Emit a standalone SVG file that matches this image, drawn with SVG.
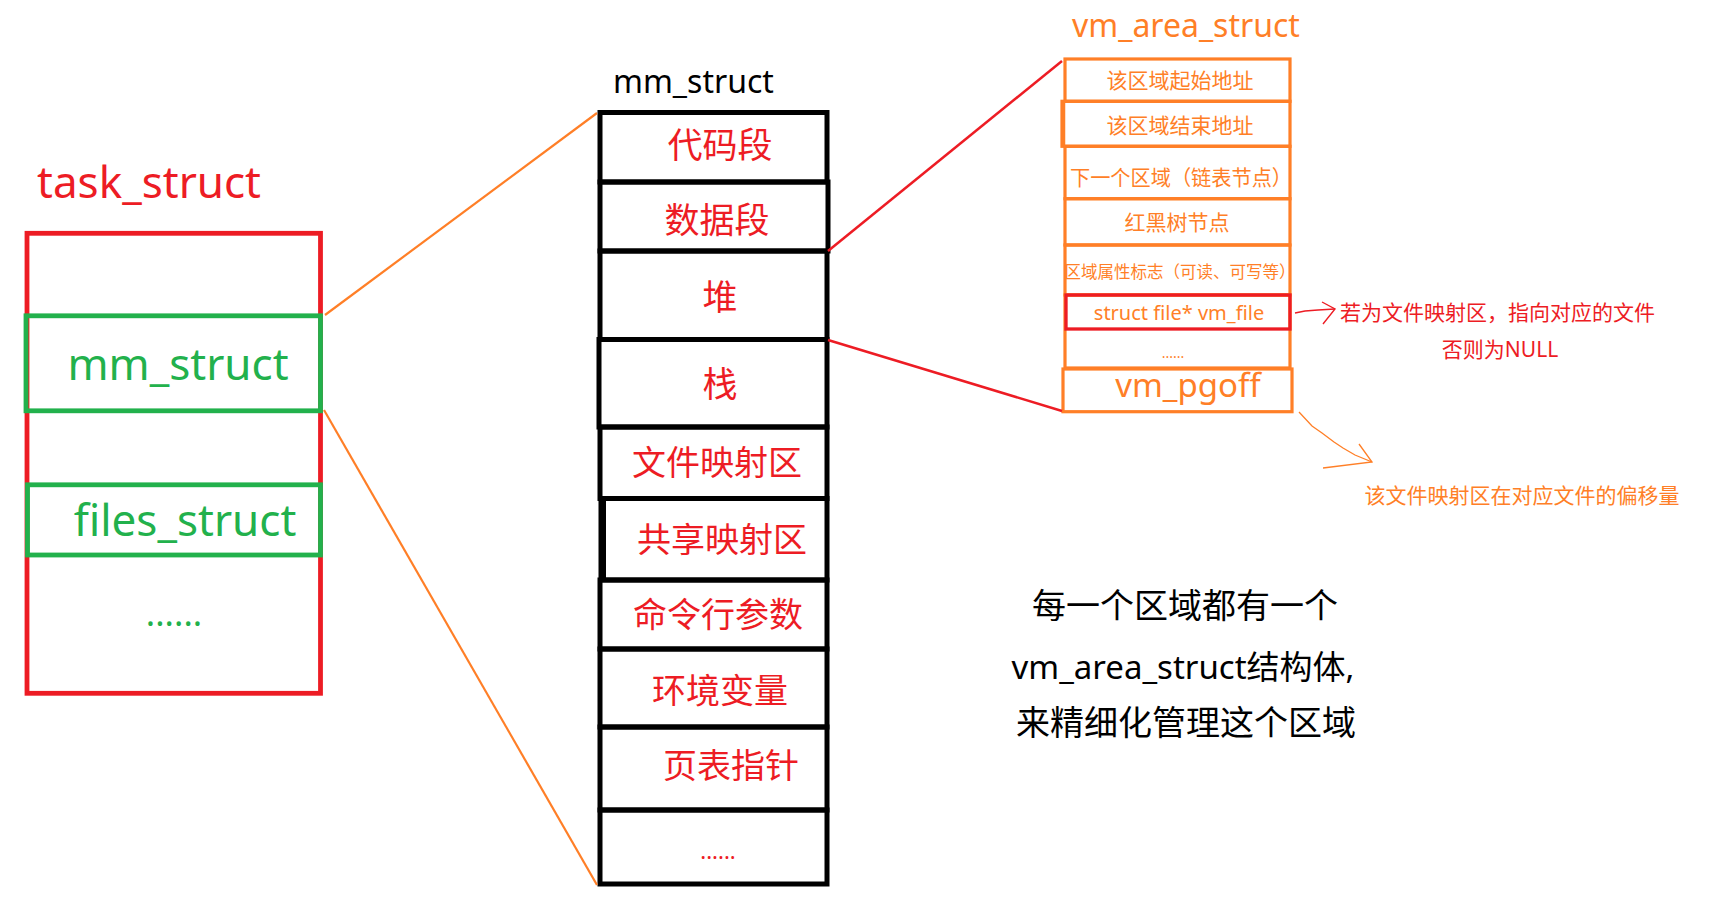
<svg xmlns="http://www.w3.org/2000/svg" width="1717" height="903" viewBox="0 0 1717 903">
<style>
text{font-family:"Noto Sans","Noto Sans CJK SC",sans-serif;}
.red{fill:#ED1C24;}
.grn{fill:#22B14C;}
.org{fill:#FF7F27;}
.blk{fill:#000;}
.m{text-anchor:middle;}
.bk{fill:none;stroke:#000;stroke-width:5;}
.ob{fill:none;stroke:#FF7F27;stroke-width:3.2;}
</style>
<rect width="1717" height="903" fill="#fff"/>
<g id="task_struct">
<text x="37" y="198" class="red" font-size="44">task_struct</text>
<rect x="27" y="233.3" width="293.5" height="460" fill="none" stroke="#ED1C24" stroke-width="4.8"/>
</g>
<g id="task_mm_struct">
<rect x="26" y="315.8" width="294.5" height="95" fill="none" stroke="#22B14C" stroke-width="4.8"/>
<text x="178" y="380" class="grn m" font-size="44">mm_struct</text>
</g>
<g id="task_files_struct">
<rect x="27.5" y="484.8" width="293" height="70.2" fill="none" stroke="#22B14C" stroke-width="4.8"/>
<text x="185" y="536" class="grn m" font-size="44">files_struct</text>
</g>
<g id="task_more">
<text x="174" y="626" class="grn m" font-size="35">......</text>
</g>
<g id="mm_struct">
<text x="613" y="93" class="blk" font-size="32">mm_struct</text>
<rect class="bk" x="600" y="112.5" width="227" height="69.5"/>
<text x="720" y="158" class="red m" font-size="35">代码段</text>
<rect class="bk" x="600" y="182" width="228" height="69"/>
<text x="717" y="233" class="red m" font-size="35">数据段</text>
<rect class="bk" x="600" y="251" width="227" height="88.5"/>
<text x="720" y="310" class="red m" font-size="35">堆</text>
<rect class="bk" x="599" y="339.5" width="228" height="87.5"/>
<text x="720" y="397" class="red m" font-size="35">栈</text>
<rect class="bk" x="600" y="427" width="227" height="71.5"/>
<text x="717" y="475" class="red m" font-size="34">文件映射区</text>
<rect class="bk" x="601" y="498.5" width="226" height="81.5"/>
<line x1="604" y1="500" x2="604" y2="578" stroke="#000" stroke-width="4"/>
<text x="722" y="552" class="red m" font-size="34">共享映射区</text>
<rect class="bk" x="600" y="580" width="227" height="69"/>
<text x="718" y="627" class="red m" font-size="34">命令行参数</text>
<rect class="bk" x="600" y="649" width="227" height="78"/>
<text x="720" y="703" class="red m" font-size="34">环境变量</text>
<rect class="bk" x="600" y="727" width="227" height="83"/>
<text x="731" y="778" class="red m" font-size="34">页表指针</text>
<rect class="bk" x="600" y="810" width="227" height="74"/>
<text x="718" y="859" class="red m" font-size="22">......</text>
</g>
<g id="vm_area_struct">
<text x="1072" y="37" class="org" font-size="32">vm_area_struct</text>
<rect class="ob" x="1065" y="59" width="225" height="42.3"/>
<text x="1180" y="88" class="org m" font-size="21">该区域起始地址</text>
<rect class="ob" x="1062" y="101.3" width="228" height="45"/>
<line x1="1063.5" y1="102" x2="1063.5" y2="146" stroke="#FF7F27" stroke-width="3.5"/>
<text x="1180" y="133" class="org m" font-size="21">该区域结束地址</text>
<rect class="ob" x="1065" y="146.3" width="225" height="52.4"/>
<text x="1070" y="185" class="org" font-size="21" textLength="222" lengthAdjust="spacingAndGlyphs">下一个区域（链表节点）</text>
<rect class="ob" x="1065" y="198.7" width="225" height="46.3"/>
<text x="1177" y="230" class="org m" font-size="21">红黑树节点</text>
<rect class="ob" x="1065" y="245" width="225" height="50"/>
<text x="1180" y="278" class="org m" font-size="16.5">区域属性标志（可读、可写等）</text>
<rect class="ob" x="1065" y="295" width="225" height="73"/>
<text x="1173" y="358" class="org m" font-size="14">......</text>
<rect x="1066" y="295" width="224" height="34" fill="none" stroke="#ED1C24" stroke-width="3.3"/>
<text x="1179" y="320" class="org m" font-size="20">struct file* vm_file</text>
<rect class="ob" x="1063" y="369" width="229" height="42.7"/>
<text x="1188" y="397" class="org m" font-size="33">vm_pgoff</text>
</g>
<g id="notes">
<text x="1340" y="320" class="red" font-size="21">若为文件映射区，指向对应的文件</text>
<text x="1500" y="357" class="red m" font-size="21">否则为NULL</text>
<text x="1522" y="503" class="org m" font-size="21">该文件映射区在对应文件的偏移量</text>
<text x="1185" y="618" class="blk m" font-size="34">每一个区域都有一个</text>
<text x="1183" y="679" class="blk m" font-size="33">vm_area_struct结构体,</text>
<text x="1186" y="735" class="blk m" font-size="34">来精细化管理这个区域</text>
</g>
<g id="connectors" fill="none">
<line x1="325" y1="315" x2="597" y2="113" stroke="#FF7F27" stroke-width="2.2"/>
<line x1="324" y1="410" x2="597" y2="885" stroke="#FF7F27" stroke-width="2.2"/>
<line x1="828" y1="251" x2="1062" y2="61" stroke="#ED1C24" stroke-width="2.5"/>
<line x1="828" y1="340" x2="1062" y2="411" stroke="#ED1C24" stroke-width="2.5"/>
<path d="M1295 313 L1305 311 L1318 310 L1335 309" stroke="#ED1C24" stroke-width="1.4"/>
<path d="M1322 302 L1335 309 L1323 324" stroke="#ED1C24" stroke-width="1.4"/>
<path d="M1299 412 L1312 426 L1322 433 L1334 442 L1343 448 L1355 455 L1372 462" stroke="#FF7F27" stroke-width="1.3"/>
<path d="M1359 444 L1372 462 L1323 468" stroke="#FF7F27" stroke-width="1.3"/>
</g>
</svg>
